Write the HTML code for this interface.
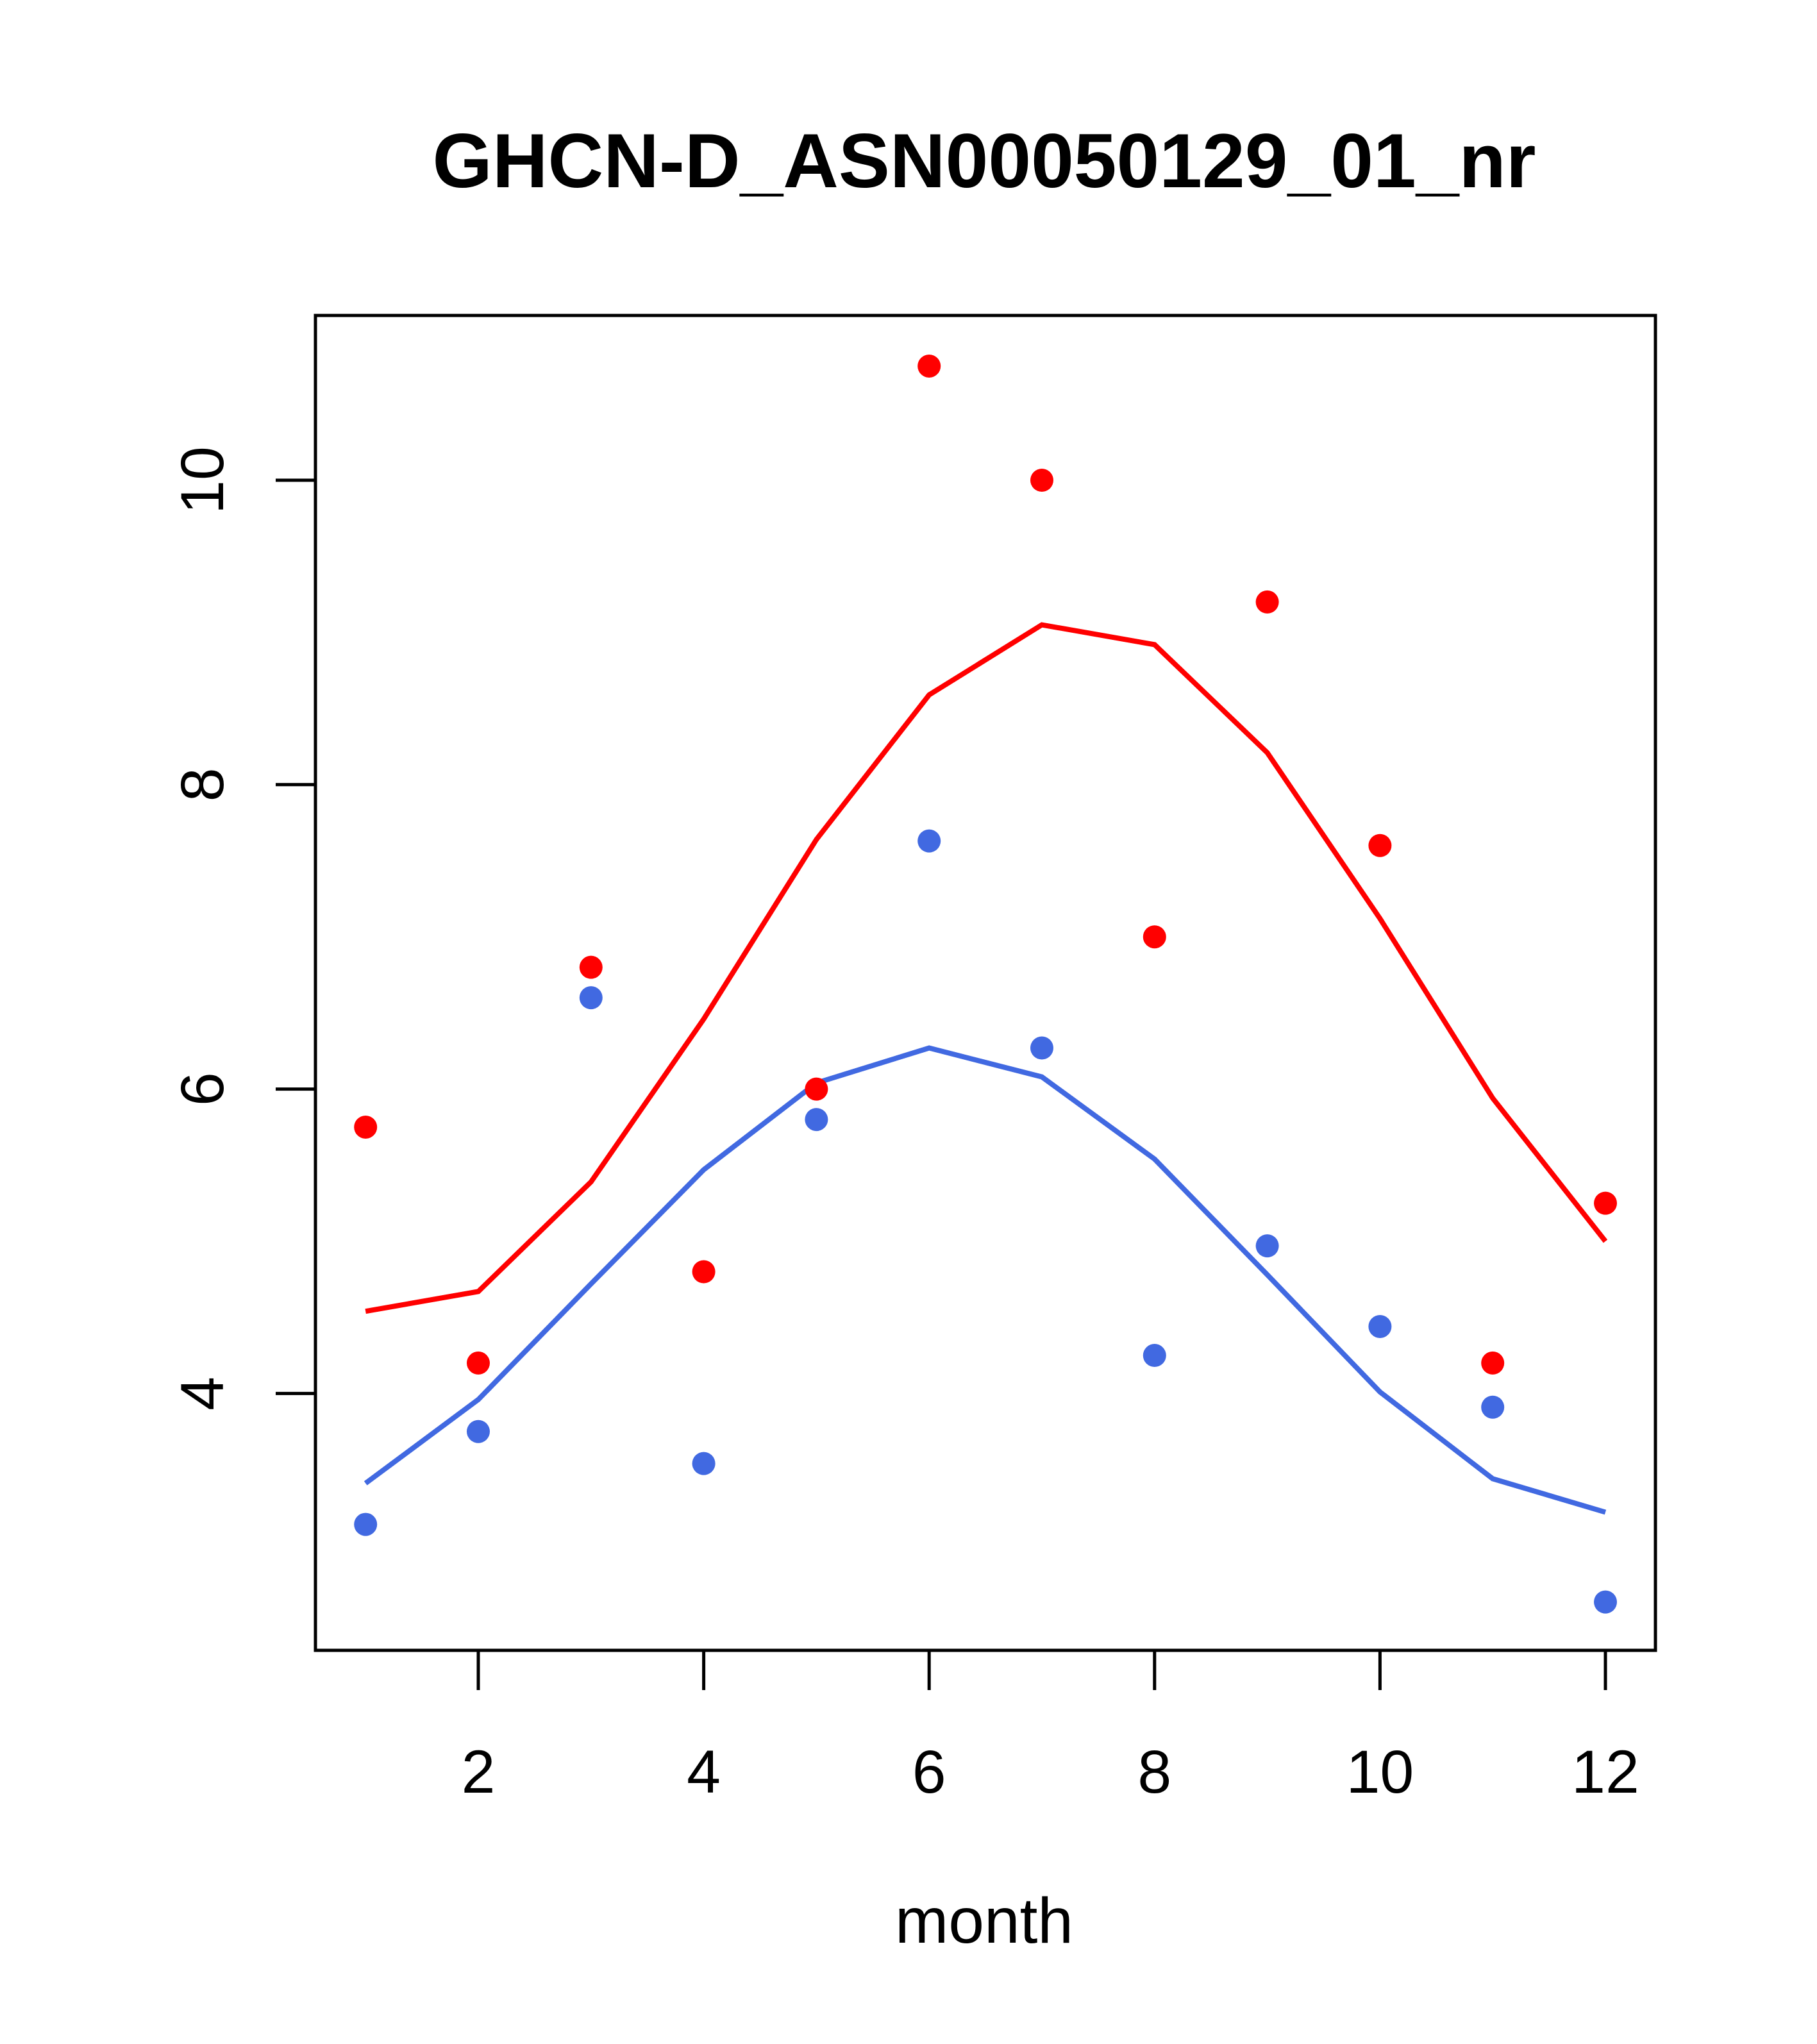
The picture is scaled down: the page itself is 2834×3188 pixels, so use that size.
<!DOCTYPE html>
<html><head><meta charset="utf-8"><style>body{margin:0;background:#fff}svg{display:block}text{font-family:"Liberation Sans",sans-serif}</style></head>
<body>
<svg id="chart" width="2834" height="3188" viewBox="0 0 2834 3188">
<text x="1535" y="292" font-size="120" font-weight="bold" text-anchor="middle">GHCN-D_ASN00050129_01_nr</text>
<rect x="492" y="492" width="2090" height="2082" fill="none" stroke="#000" stroke-width="5"/>
<g id="axes"></g>
<g id="marks"></g>
<text x="1535" y="3030" font-size="100" text-anchor="middle">month</text>
</svg>
<script>
const months=[1,2,3,4,5,6,7,8,9,10,11,12];
const redPoints=[5.75,4.2,6.8,4.8,6.0,10.75,10.0,7.0,9.2,7.6,4.2,5.25];
const bluePoints=[3.14,3.75,6.6,3.54,5.8,7.63,6.27,4.25,4.97,4.44,3.91,2.63];
const redLine=[4.54,4.67,5.39,6.46,7.64,8.59,9.05,8.92,8.21,7.12,5.94,5.0];
const blueLine=[3.41,3.96,4.72,5.47,6.04,6.27,6.08,5.54,4.78,4.01,3.44,3.22];
const xTicks=[2,4,6,8,10,12];
const yTicks=[4,6,8,10];
const NS='http://www.w3.org/2000/svg';
function X(v){return 746+(v-2)*175.8;}
function Y(v){return 749+(10-v)*237.4;}
const axes=document.getElementById('axes'),marks=document.getElementById('marks');
function mk(tag,attrs,parent){const e=document.createElementNS(NS,tag);for(const k in attrs)e.setAttribute(k,attrs[k]);parent.appendChild(e);return e;}
xTicks.forEach(t=>{
 const l=mk('line',{x1:X(t),x2:X(t),y1:2574,y2:2636,stroke:'#000','stroke-width':5},axes);
 
 
 const tx=mk('text',{x:X(t),y:2796,'font-size':95,'text-anchor':'middle'},axes);tx.textContent=t;
 
 
});
yTicks.forEach(t=>{
 const l=mk('line',{x1:430,x2:492,y1:Y(t),y2:Y(t),stroke:'#000','stroke-width':5},axes);
 
 
 const tx=mk('text',{x:0,y:0,'font-size':95,'text-anchor':'middle',transform:`translate(348,${Y(t)}) rotate(-90)`},axes);tx.textContent=t;
 
 
});
function line(vals,col,name){
 const p=mk('polyline',{points:months.map((m,i)=>X(m)+','+Y(vals[i])).join(' '),fill:'none',stroke:col,'stroke-width':8},marks);
 
 
}
function pts(vals,col,name){
 months.forEach((m,i)=>{const c=mk('circle',{cx:X(m),cy:Y(vals[i]),r:18,fill:col},marks);
 
 });
}
line(redLine,'#ff0000','red-line');
line(blueLine,'#4169e1','blue-line');
pts(redPoints,'#ff0000','red-point');
pts(bluePoints,'#4169e1','blue-point');
</script>
</body></html>
